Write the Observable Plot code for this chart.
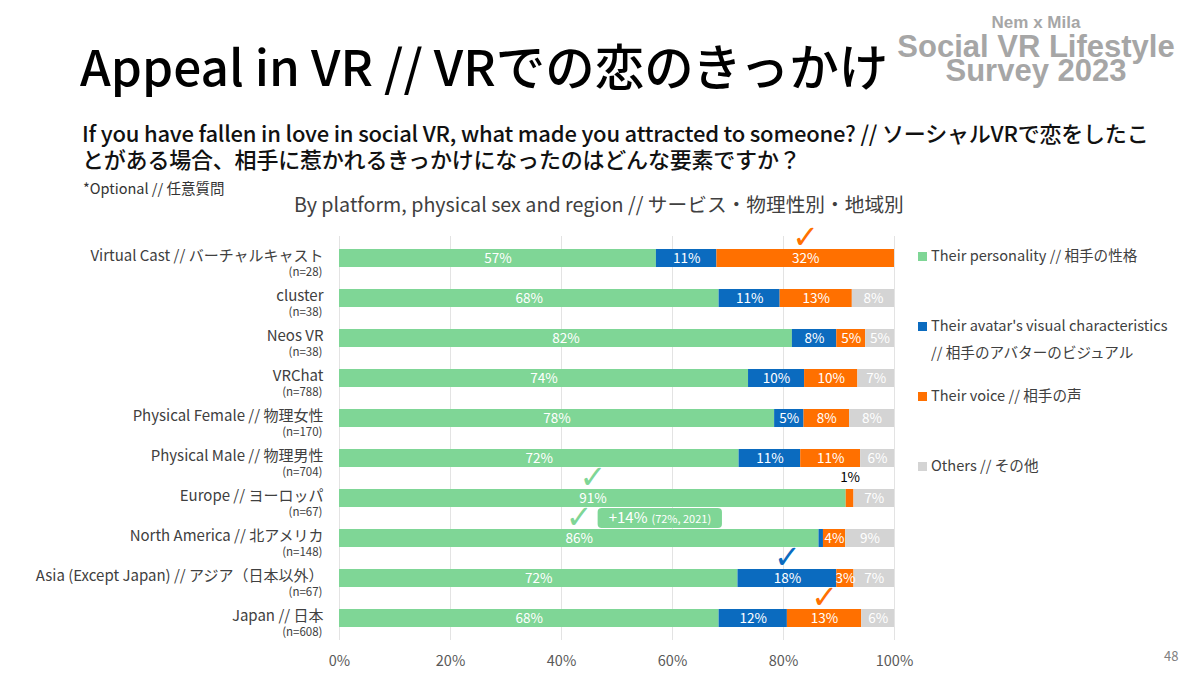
<!DOCTYPE html>
<html>
<head>
<meta charset="utf-8">
<script src="https://cdn.jsdelivr.net/npm/d3@7"></script>
<script src="https://cdn.jsdelivr.net/npm/@observablehq/plot@0.6"></script>
<style>
  html, body { margin: 0; padding: 0; background: #fff; }
  #wrap { position: relative; width: 1200px; height: 675px; overflow: hidden; background: #fff;
          font-family: 'Noto Sans CJK JP', 'Noto Sans', sans-serif; }
  .abs { position: absolute; white-space: nowrap; }
  .logo { font-family: 'Liberation Sans', Arial, sans-serif; font-weight: bold; color: #a6a6a6;
          transform: translateX(-50%); line-height: 0.75; }
  .leg { position: absolute; left: 931px; font-size: 14.6px; color: #404040; line-height: 20px; white-space: nowrap; }
  .sw { position: absolute; left: 918px; width: 9px; height: 9px; }
  #chart { position: absolute; left: 0; top: 0; }
</style>
</head>
<body>
<div id="wrap">
  <div class="abs logo" style="left:1036px; top:17px; font-size:17px;">Nem x Mila</div>
  <div class="abs logo" style="left:1036px; top:35px; font-size:31px;">Social VR Lifestyle</div>
  <div class="abs logo" style="left:1036px; top:59px; font-size:31px;">Survey 2023</div>

  <div class="abs" style="left:80px; top:40px; font-size:49.5px; line-height:1; color:#000; font-weight:500;">Appeal in VR // VRでの恋のきっかけ</div>
  <div class="abs" style="left:82px; top:119px; font-size:22px; line-height:26px; letter-spacing:-0.2px; color:#111; font-weight:500;">If you have fallen in love in social VR, what made you attracted to someone? // ソーシャルVRで恋をしたこ<br>とがある場合、相手に惹かれるきっかけになったのはどんな要素ですか？</div>
  <div class="abs" style="left:83px; top:178px; font-size:14.5px; line-height:20px; color:#333;">*Optional // 任意質問</div>
  <div class="abs" style="left:294px; top:191px; font-size:19.7px; line-height:26px; color:#404040;">By platform, physical sex and region // サービス・物理性別・地域別</div>

  <div id="chart"></div>
  <div id="legend"></div>
  <div class="abs" style="left:1164px; top:646px; font-size:13px; color:#7f7f7f;">48</div>
</div>
<script>
// ---- data ----
const categories = [
  "Virtual Cast // バーチャルキャスト",
  "cluster",
  "Neos VR",
  "VRChat",
  "Physical Female // 物理女性",
  "Physical Male // 物理男性",
  "Europe // ヨーロッパ",
  "North America // 北アメリカ",
  "Asia (Except Japan) // アジア（日本以外）",
  "Japan // 日本"
];
const sampleSizes = ["(n=28)", "(n=38)", "(n=38)", "(n=788)", "(n=170)", "(n=704)", "(n=67)", "(n=148)", "(n=67)", "(n=608)"];

const seriesKeys = ["personality", "avatar", "voice", "others"];
const seriesLabels = [
  ["Their personality // 相手の性格"],
  ["Their avatar's visual characteristics", "// 相手のアバターのビジュアル"],
  ["Their voice // 相手の声"],
  ["Others // その他"]
];
const seriesColors = ["#7fd696", "#0b6bbf", "#ff7000", "#d4d4d4"];

const personality = [57.1, 68.4, 81.6, 73.7, 78.4, 72.0, 91.3, 86.4, 71.8, 68.4];
const avatar      = [10.9, 11.0,  8.0, 10.1,  5.3, 11.1,  0.0,  0.8, 17.8, 12.3];
const voice       = [32.0, 13.0,  5.2,  9.6,  8.2, 10.8,  1.4,  4.0,  3.1, 13.4];
const others      = [ 0.0,  7.6,  5.2,  6.6,  8.1,  6.1,  7.3,  8.8,  7.3,  5.9];

const xTicks = [0, 20, 40, 60, 80, 100];

// highlighted segments (check marks)
const highlightRows = ["Virtual Cast // バーチャルキャスト", "Europe // ヨーロッパ", "North America // 北アメリカ", "Asia (Except Japan) // アジア（日本以外）", "Japan // 日本"];
const highlightKeys = ["voice", "personality", "personality", "avatar", "voice"];

// annotation
const noteRow = "North America // 北アメリカ";
const noteMain = "+14%";
const noteSub = "(72%, 2021)";

// ---- build long table ----
const seriesValues = {personality, avatar, voice, others};
const long = [];
categories.forEach((cat, i) => {
  seriesKeys.forEach(k => {
    long.push({cat, key: k, value: seriesValues[k][i],
      hl: highlightRows.some((r, j) => r === cat && highlightKeys[j] === k)});
  });
});
const rows = categories.map((c, i) => ({cat: c, n: sampleSizes[i]}));
const colorOf = Object.fromEntries(seriesKeys.map((k, i) => [k, seriesColors[i]]));
const green = seriesColors[0];

const stackOpts = (extra) => Plot.stackX({x: "value", y: "cat", z: "key", order: seriesKeys, ...extra});

const chart = Plot.plot({
  width: 1200,
  height: 675,
  marginLeft: 339,
  marginRight: 306,
  marginTop: 236,
  marginBottom: 35,
  style: {fontFamily: "'Noto Sans CJK JP', 'Noto Sans', sans-serif", fontSize: "14px", color: "#404040", background: "transparent", overflow: "visible"},
  x: {domain: [0, 100]},
  y: {domain: categories, paddingInner: 0.555, paddingOuter: 0.2775, axis: null},
  color: {domain: seriesKeys, range: seriesColors},
  marks: [
    Plot.gridX(xTicks, {stroke: "#e3e3e3", strokeOpacity: 1}),
    Plot.axisX({ticks: xTicks, tickFormat: d => d + "%", tickSize: 0, tickPadding: 15, fontSize: 14.5, color: "#595959", label: null}),
    Plot.barX(long, stackOpts({fill: "key"})),
    Plot.text(long, stackOpts({text: d => d.value >= 3 ? Math.round(d.value) + "%" : "", fill: "white", fontSize: 13.5})),
    Plot.text(long, stackOpts({text: d => d.value >= 1 && d.value < 3 ? Math.round(d.value) + "%" : "", fill: "black", fontSize: 13.5, dy: -21})),
    Plot.text(long, stackOpts({text: d => d.hl ? "✓" : "", fill: d => colorOf[d.key], fontSize: 32, fontWeight: "bold", fontFamily: "DejaVu Sans", dy: -21})),
    // y labels
    Plot.text(rows, {x: 0, y: "cat", text: "cat", textAnchor: "end", dx: -16, dy: -2.5, fontSize: 15, fill: "#404040"}),
    Plot.text(rows, {x: 0, y: "cat", text: "n", textAnchor: "end", dx: -17, dy: 13.5, fontSize: 11.5, fill: "#404040"}),
    // annotation box
    Plot.barX([{row: noteRow}], {x1: 46.6, x2: 69.0, y: "row", dy: -20, insetTop: -1, insetBottom: -1, rx: 4, fill: green}),
    Plot.text([{row: noteRow, t: noteMain}], {x: 48.5, y: "row", text: "t", dy: -20, textAnchor: "start", fill: "white", fontSize: 15}),
    Plot.text([{row: noteRow, t: noteSub}], {x: 56.2, y: "row", text: "t", dy: -19, textAnchor: "start", fill: "white", fontSize: 11})
  ]
});
document.getElementById("chart").appendChild(chart);

// legend
const legendTops = [245, 315, 385, 455];
const leg = document.getElementById("legend");
seriesKeys.forEach((k, i) => {
  const sw = document.createElement("div");
  sw.className = "sw";
  sw.style.background = seriesColors[i];
  sw.style.top = (legendTops[i] + 7) + "px";
  leg.appendChild(sw);
  seriesLabels[i].forEach((t, j) => {
    const d = document.createElement("div");
    d.className = "leg";
    d.style.top = (legendTops[i] + j * 27) + "px";
    d.textContent = t;
    leg.appendChild(d);
  });
});
</script>
</body>
</html>
